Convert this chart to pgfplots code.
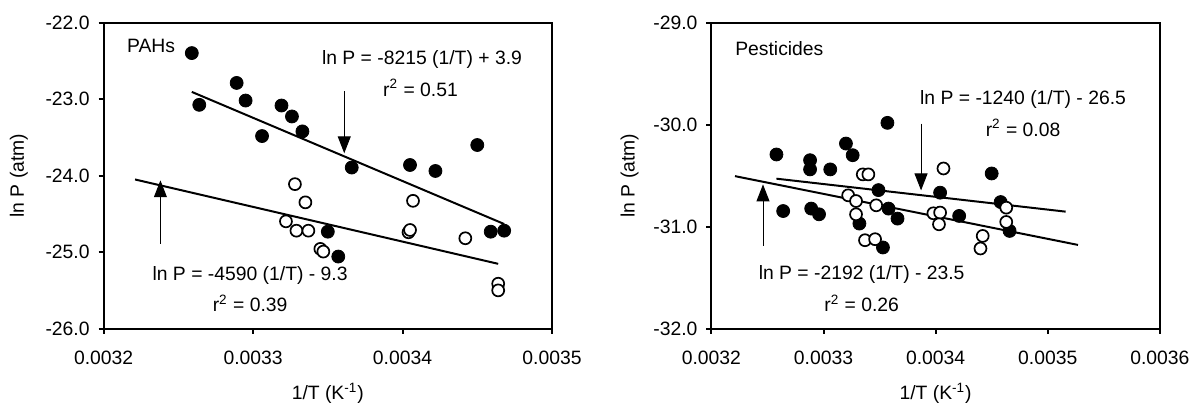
\documentclass[border=0pt]{standalone}
\usepackage{fontspec}
\setmainfont{Liberation Sans}
\usepackage{pgfplots}
\pgfplotsset{compat=1.18}
\usetikzlibrary{arrows.meta}

% PAHs: filled = one phase, open = other phase
\pgfplotstableread{
x y
0.003259 -22.398
0.003264 -23.074
0.003289 -22.788
0.003295 -23.018
0.003306 -23.482
0.003319 -23.083
0.003326 -23.226
0.003333 -23.421
0.003366 -23.893
0.003405 -23.860
0.003422 -23.938
0.003450 -23.599
0.003350 -24.731
0.003357 -25.056
0.003459 -24.731
0.003468 -24.718
}\pahfilled
\pgfplotstableread{
x y
0.003328 -24.110
0.003335 -24.348
0.003322 -24.596
0.003329 -24.718
0.003337 -24.718
0.003345 -24.956
0.003347 -24.991
0.003407 -24.328
0.003404 -24.739
0.003405 -24.709
0.003442 -24.817
0.003464 -25.411
0.003464 -25.498
}\pahopen
\pgfplotstableread{
x y
0.003258 -30.292
0.003288 -30.348
0.003288 -30.438
0.003306 -30.438
0.003320 -30.185
0.003326 -30.299
0.003357 -29.982
0.003349 -30.641
0.003404 -30.666
0.003450 -30.478
0.003458 -30.758
0.003264 -30.846
0.003289 -30.822
0.003296 -30.878
0.003332 -30.969
0.003358 -30.822
0.003366 -30.920
0.003421 -30.894
0.003466 -31.041
0.003353 -31.203
}\pestfilled
\pgfplotstableread{
x y
0.003335 -30.487
0.003340 -30.487
0.003407 -30.429
0.003322 -30.692
0.003329 -30.748
0.003329 -30.878
0.003347 -30.790
0.003398 -30.868
0.003404 -30.861
0.003403 -30.976
0.003442 -31.090
0.003440 -31.213
0.003337 -31.132
0.003346 -31.122
0.003463 -30.813
0.003463 -30.953
}\pestopen

\tikzset{arr/.style={-{Triangle[width=6.5pt,length=8.5pt]}, line width=0.5pt, black}}

\pgfplotsset{
  panel/.style={
    scale only axis, width=225pt, height=153.65pt,
    anchor=south west,
    axis line style={line width=1pt},
    tick align=outside, xtick pos=bottom, ytick pos=left,
    major tick length=2.5pt,
    every tick/.style={line width=1pt, black},
    scaled x ticks=false,
    /pgf/number format/assume math mode=true,
    xticklabel style={yshift=-5pt, /pgf/number format/.cd, fixed, fixed zerofill, precision=4},
    yticklabel style={xshift=-1pt, /pgf/number format/.cd, fixed, fixed zerofill, precision=1},
    xlabel={1/T (K\textsuperscript{-1})},
    ylabel={ln P (atm)},
    xlabel style={at={(axis description cs:0.5,0)}, anchor=center, yshift=-32.5pt},
    clip=false,
  },
  filledpt/.style={only marks, mark=*, mark size=3.25pt, mark options={fill=black, draw=black}},
  openpt/.style={only marks, mark=*, mark size=3.0pt, mark options={fill=white, draw=black, line width=0.85pt}},
  fitline/.style={black, line width=1pt, no marks},
}

\begin{document}
\begin{tikzpicture}[font=\fontsize{9.7}{11.6}\selectfont]
\path (-52pt,-39pt) rectangle (546pt,165pt);

\begin{axis}[panel, at={(0,0)},
  ylabel style={at={(axis description cs:0,0.5)}, anchor=center, yshift=42.5pt},
  xmin=0.0032, xmax=0.0035, ymin=-26, ymax=-22,
  xtick={0.0032,0.0033,0.0034,0.0035}, ytick={-26,-25,-24,-23,-22}]
\addplot[filledpt] table[x=x,y=y] {\pahfilled};
\addplot[openpt] table[x=x,y=y] {\pahopen};
\addplot[fitline] coordinates {(0.003259,-22.905) (0.003468,-24.631)};
\addplot[fitline] coordinates {(0.003221,-24.049) (0.003464,-25.151)};
\draw[arr] (axis cs:0.003361,-22.897) -- (axis cs:0.003361,-23.707);
\draw[arr] (axis cs:0.003238,-24.891) -- (axis cs:0.003238,-24.06);
\node[anchor=west] at (axis cs:0.003211,-22.30) {PAHs};
\node at (axis cs:0.003413,-22.485) {ln P = -8215 (1/T) + 3.9};
\node at (axis cs:0.003412,-22.853) {r\textsuperscript{2} = 0.51};
\node at (axis cs:0.003298,-25.303) {ln P = -4590 (1/T) - 9.3};
\node at (axis cs:0.003298,-25.671) {r\textsuperscript{2} = 0.39};
\end{axis}

\begin{axis}[panel, at={(305pt,0)},
  ylabel style={at={(axis description cs:0,0.5)}, anchor=center, yshift=41pt},
  xmin=0.0032, xmax=0.0036, ymin=-32, ymax=-29,
  xtick={0.0032,0.0033,0.0034,0.0035,0.0036}, ytick={-32,-31,-30,-29}]
\addplot[filledpt] table[x=x,y=y] {\pestfilled};
\addplot[openpt] table[x=x,y=y] {\pestopen};
\addplot[fitline] coordinates {(0.003258,-30.529) (0.003516,-30.852)};
\addplot[fitline] coordinates {(0.003221,-30.504) (0.003527,-31.178)};
\draw[arr] (axis cs:0.003387,-29.989) -- (axis cs:0.003387,-30.644);
\draw[arr] (axis cs:0.003246,-31.188) -- (axis cs:0.003246,-30.585);
\node[anchor=west] at (axis cs:0.003215,-29.25) {Pesticides};
\node at (axis cs:0.003478,-29.755) {ln P = -1240 (1/T) - 26.5};
\node at (axis cs:0.003478,-30.031) {r\textsuperscript{2} = 0.08};
\node at (axis cs:0.003334,-31.464) {ln P = -2192 (1/T) - 23.5};
\node at (axis cs:0.003334,-31.747) {r\textsuperscript{2} = 0.26};
\end{axis}
\end{tikzpicture}
\end{document}
